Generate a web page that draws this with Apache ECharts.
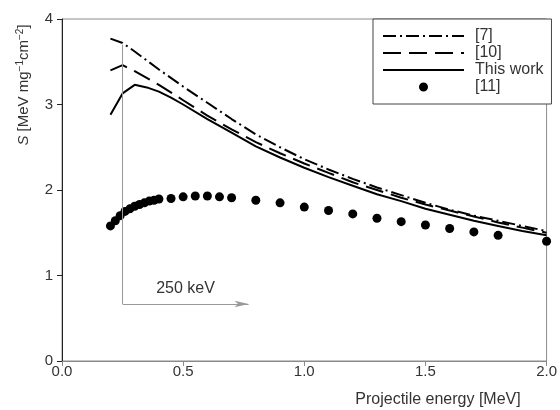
<!DOCTYPE html>
<html>
<head>
<meta charset="utf-8">
<script src="https://cdn.jsdelivr.net/npm/echarts@6/dist/echarts.min.js"></script>
<style>
  html, body { margin: 0; padding: 0; background: #fff; }
  #chart { width: 560px; height: 410px; }
</style>
</head>
<body>
<div id="chart"></div>
<script>
// Stopping power S vs projectile energy
const energyRef7 = [0.2, 0.25, 0.3, 0.4, 0.5, 0.6, 0.7, 0.8, 0.9, 1.0, 1.1, 1.2, 1.3, 1.4, 1.5, 1.6, 1.7, 1.8, 1.9, 2.0];
const stopRef7   = [3.77, 3.72, 3.62, 3.41, 3.21, 3.02, 2.83, 2.65, 2.50, 2.36, 2.24, 2.13, 2.03, 1.94, 1.85, 1.77, 1.70, 1.64, 1.58, 1.52];

const energyRef10 = [0.2, 0.25, 0.3, 0.4, 0.5, 0.6, 0.7, 0.8, 0.9, 1.0, 1.1, 1.2, 1.3, 1.4, 1.5, 1.6, 1.7, 1.8, 1.9, 2.0];
const stopRef10   = [3.40, 3.46, 3.39, 3.23, 3.05, 2.87, 2.71, 2.56, 2.43, 2.31, 2.20, 2.09, 2.00, 1.91, 1.83, 1.76, 1.69, 1.62, 1.56, 1.50];

const energyThis = [0.2, 0.25, 0.3, 0.35, 0.4, 0.45, 0.5, 0.6, 0.7, 0.8, 0.9, 1.0, 1.1, 1.2, 1.3, 1.4, 1.5, 1.6, 1.7, 1.8, 1.9, 2.0];
const stopThis   = [2.88, 3.13, 3.23, 3.20, 3.15, 3.08, 3.00, 2.83, 2.67, 2.51, 2.38, 2.26, 2.15, 2.05, 1.95, 1.87, 1.78, 1.71, 1.64, 1.58, 1.52, 1.47];

const energyRef11 = [0.20, 0.22, 0.24, 0.26, 0.28, 0.30, 0.32, 0.34, 0.36, 0.38, 0.40, 0.45, 0.5, 0.55, 0.6, 0.65, 0.7, 0.8, 0.9, 1.0, 1.1, 1.2, 1.3, 1.4, 1.5, 1.6, 1.7, 1.8, 2.0];
const stopRef11   = [1.58, 1.64, 1.70, 1.75, 1.78, 1.81, 1.83, 1.85, 1.87, 1.88, 1.895, 1.90, 1.92, 1.93, 1.93, 1.92, 1.91, 1.88, 1.85, 1.80, 1.76, 1.72, 1.67, 1.63, 1.59, 1.55, 1.51, 1.47, 1.40];

const seriesNames = ['[7]', '[10]', 'This work', '[11]'];

// 250 keV threshold marker (energy in MeV, S value)
const thresholdEnergy = 0.25;
const thresholdTop = 3.70;
const thresholdBase = 0.667;
const arrowEnd = 0.77;
const thresholdLabel = '250 keV';

const xTicks = { min: 0, max: 2, interval: 0.5 };
const yTicks = { min: 0, max: 4, interval: 1 };

const pairs = (xs, ys) => xs.map((x, i) => [x, ys[i]]);

const FONT = 'Liberation Sans, Arial, Helvetica, sans-serif';
const TEXT = '#333';

const chart = echarts.init(document.getElementById('chart'), null, { renderer: 'canvas' });

const lineBase = { type: 'line', symbol: 'none', smooth: false, z: 3 };

// line-only legend entries: hide the marker the line legend icon carries
const lineLegendItem = name => ({ name, itemStyle: { opacity: 0 } });

chart.setOption({
  animation: false,
  backgroundColor: '#fff',
  textStyle: { fontFamily: FONT },
  grid: {
    left: 62, right: 10, top: 19, bottom: 49,
    show: true, borderColor: '#8a8a8a', borderWidth: 1, backgroundColor: 'transparent'
  },
  legend: {
    left: 373, top: 19,
    orient: 'vertical',
    itemWidth: 81, itemHeight: 12, itemGap: 1,
    padding: [9, 8, 9, 9],
    borderColor: '#444', borderWidth: 1,
    backgroundColor: '#fff',
    selectedMode: false,
    textStyle: { fontFamily: FONT, fontSize: 16, lineHeight: 16, color: TEXT, padding: [0, 0, 0, 6] },
    data: [
      lineLegendItem(seriesNames[0]),
      lineLegendItem(seriesNames[1]),
      lineLegendItem(seriesNames[2]),
      { name: seriesNames[3], icon: 'circle', itemStyle: { borderColor: '#fff', borderWidth: 3 } }
    ]
  },
  xAxis: {
    type: 'value', min: xTicks.min, max: xTicks.max, interval: xTicks.interval,
    axisLine: { show: true, lineStyle: { color: '#8a8a8a', width: 1 } },
    axisTick: { show: true, inside: false, length: 5, lineStyle: { color: '#8a8a8a' } },
    axisLabel: { fontFamily: FONT, fontSize: 15, color: TEXT, margin: 3,
      formatter: v => v.toFixed(1) },
    splitLine: { show: false }
  },
  yAxis: {
    type: 'value', min: yTicks.min, max: yTicks.max, interval: yTicks.interval,
    axisLine: { show: true, lineStyle: { color: '#222', width: 1 } },
    axisTick: { show: true, inside: false, length: 5, lineStyle: { color: '#222' } },
    axisLabel: { fontFamily: FONT, fontSize: 15, color: TEXT, margin: 9 },
    splitLine: { show: false }
  },
  graphic: [
    {
      type: 'text', x: 24, y: 85, rotation: Math.PI / 2,
      style: {
        text: '{it|S} [MeV mg{sup|−1}cm{sup|−2}]',
        fontFamily: FONT, fontSize: 15, fill: TEXT,
        align: 'center', verticalAlign: 'middle',
        rich: {
          it: { fontStyle: 'italic', fontSize: 15, fontFamily: FONT, fill: TEXT, lineHeight: 18 },
          sup: { fontSize: 10, fontFamily: FONT, fill: TEXT, verticalAlign: 'top', lineHeight: 18 }
        }
      }
    },
    {
      type: 'text', x: 438, y: 400,
      style: {
        text: 'Projectile energy [MeV]',
        fontFamily: FONT, fontSize: 16, fill: TEXT,
        align: 'center', verticalAlign: 'middle'
      }
    }
  ],
  series: [
    Object.assign({}, lineBase, {
      name: seriesNames[0],
      data: pairs(energyRef7, stopRef7),
      lineStyle: { color: '#000', width: 2, type: [13, 4, 2, 4] },
      itemStyle: { color: '#000' }
    }),
    Object.assign({}, lineBase, {
      name: seriesNames[1],
      data: pairs(energyRef10, stopRef10),
      lineStyle: { color: '#000', width: 2, type: [18, 8] },
      itemStyle: { color: '#000' }
    }),
    Object.assign({}, lineBase, {
      name: seriesNames[2],
      data: pairs(energyThis, stopThis),
      lineStyle: { color: '#000', width: 2, type: 'solid' },
      itemStyle: { color: '#000' },
      markLine: {
        silent: true,
        symbol: ['none', 'none'],
        lineStyle: { color: '#999', width: 1, type: 'solid' },
        label: { show: false },
        data: [
          [
            { coord: [thresholdEnergy, thresholdTop], symbol: 'none' },
            { coord: [thresholdEnergy, thresholdBase], symbol: 'none' }
          ],
          [
            { coord: [thresholdEnergy, thresholdBase], symbol: 'none' },
            { coord: [arrowEnd, thresholdBase], symbol: 'arrow', symbolSize: [5, 14],
              label: { show: true, position: 'middle', formatter: thresholdLabel,
                fontFamily: FONT, fontSize: 16, color: TEXT, distance: 7 } }
          ]
        ]
      }
    }),
    {
      type: 'scatter',
      name: seriesNames[3],
      data: pairs(energyRef11, stopRef11),
      symbol: 'circle', symbolSize: 9,
      itemStyle: { color: '#000', opacity: 1 },
      z: 4
    }
  ]
});
</script>
</body>
</html>
